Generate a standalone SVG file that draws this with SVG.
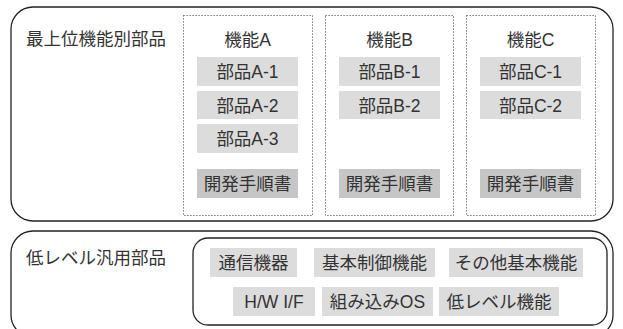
<svg xmlns="http://www.w3.org/2000/svg" width="623" height="329" viewBox="0 0 623 329">
<style>
text{font-family:"Liberation Sans","Noto Sans CJK JP",sans-serif;font-size:17.5px;fill:#333;text-anchor:middle}
.lbl{text-anchor:start}
.outer{fill:#fff;stroke:#222;stroke-width:1.3}
.dot{fill:none;stroke:#555;stroke-width:1;stroke-dasharray:1.2 1.8}
.part{fill:#dcdcdc}
.doc{fill:#c6c6c6}
</style>
<rect width="623" height="329" fill="#fff"/>
<g id="top-level">
<rect class="outer" x="11" y="7" width="602" height="214" rx="22"/>
<text class="lbl" x="26" y="45">最上位機能別部品</text>
</g>
<g id="funcA">
<rect class="dot" x="183.5" y="15.5" width="129" height="200"/>
<text x="247.5" y="46">機能A</text>
<rect class="part" x="197" y="57" width="101" height="29"/>
<text x="247.5" y="78">部品A-1</text>
<rect class="part" x="197" y="91" width="101" height="28"/>
<text x="247.5" y="111.5">部品A-2</text>
<rect class="part" x="197" y="124" width="101" height="29"/>
<text x="247.5" y="145">部品A-3</text>
<rect class="doc" x="197" y="169" width="101" height="29"/>
<text x="247.5" y="190">開発手順書</text>
</g>
<g id="funcB">
<rect class="dot" x="325.5" y="15.5" width="128" height="200"/>
<text x="389.5" y="46">機能B</text>
<rect class="part" x="339" y="57" width="101" height="29"/>
<text x="389.5" y="78">部品B-1</text>
<rect class="part" x="339" y="91" width="101" height="28"/>
<text x="389.5" y="111.5">部品B-2</text>
<rect class="doc" x="339" y="169" width="101" height="29"/>
<text x="389.5" y="190">開発手順書</text>
</g>
<g id="funcC">
<rect class="dot" x="466.5" y="15.5" width="129" height="200"/>
<text x="530.5" y="46">機能C</text>
<rect class="part" x="480" y="57" width="101" height="29"/>
<text x="530.5" y="78">部品C-1</text>
<rect class="part" x="480" y="91" width="101" height="28"/>
<text x="530.5" y="111.5">部品C-2</text>
<rect class="doc" x="480" y="169" width="101" height="29"/>
<text x="530.5" y="190">開発手順書</text>
</g>
<g id="low-level">
<rect class="outer" x="11" y="231" width="602" height="106" rx="22"/>
<text class="lbl" x="26" y="264">低レベル汎用部品</text>
<rect class="outer" x="193" y="238" width="414" height="87" rx="15"/>
</g>
<g id="low-parts">
<rect class="part" x="210" y="248" width="87" height="29"/>
<text x="253.5" y="269">通信機器</text>
<rect class="part" x="314" y="248" width="121" height="29"/>
<text x="374.5" y="269">基本制御機能</text>
<rect class="part" x="449" y="248" width="134" height="29"/>
<text x="516" y="269">その他基本機能</text>
<rect class="part" x="233" y="287" width="82" height="29"/>
<text x="274" y="308">H/W I/F</text>
<rect class="part" x="322" y="287" width="111" height="29"/>
<text x="377.5" y="308">組み込みOS</text>
<rect class="part" x="439" y="287" width="120" height="29"/>
<text x="499" y="308">低レベル機能</text>
</g>
<g id="connectors"></g>
</svg>
